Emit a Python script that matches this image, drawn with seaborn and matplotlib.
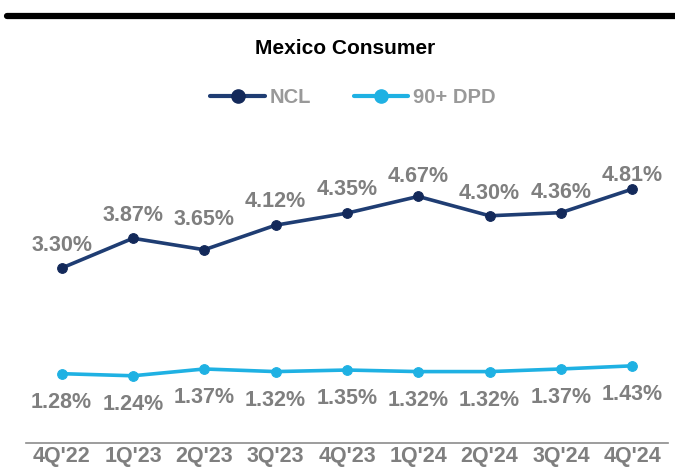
import numpy as np
import pandas as pd
import seaborn as sns
import matplotlib.pyplot as plt
from matplotlib.lines import Line2D

quarters = ["4Q'22", "1Q'23", "2Q'23", "3Q'23", "4Q'23", "1Q'24", "2Q'24", "3Q'24", "4Q'24"]
ncl = [3.30, 3.87, 3.65, 4.12, 4.35, 4.67, 4.30, 4.36, 4.81]
dpd = [1.28, 1.24, 1.37, 1.32, 1.35, 1.32, 1.32, 1.37, 1.43]

#标签偏移(点)，参考图里标签是手动摆放的
ncl_dy = [16.5, 16.5, 22, 17, 17, 14, 16, 14.5, 9.5]
dpd_dy = -20.5

navy = '#1f3d73'
navy_dot = '#13295a'
cyan = '#1fb1e3'
grey = '#7f7f7f'

sns.set_style('white')
plt.rcParams['font.family'] = ['Liberation Sans', 'DejaVu Sans']

df = pd.DataFrame({'quarter': quarters, 'NCL': ncl, '90+ DPD': dpd})
df['x'] = np.arange(len(quarters))

fig = plt.figure(figsize=(6.75, 4.73), dpi=100)
ax = fig.add_axes([0.0385, 0.0634, 0.951, 0.6617])

sns.lineplot(data=df, x='x', y='NCL', ax=ax, color=navy, lw=2.6,
             marker='o', markersize=7, markerfacecolor=navy_dot, markeredgecolor=navy_dot)
sns.lineplot(data=df, x='x', y='90+ DPD', ax=ax, color=cyan, lw=2.6,
             marker='o', markersize=7, markerfacecolor=cyan, markeredgecolor=cyan)

#数据标签
for i in range(len(quarters)):
    ax.annotate('%.2f%%' % ncl[i], (i, ncl[i]), xytext=(0, ncl_dy[i]), textcoords='offset points',
                ha='center', va='center', fontsize=15.5, fontweight='bold', color=grey)
    ax.annotate('%.2f%%' % dpd[i], (i, dpd[i]), xytext=(0, dpd_dy), textcoords='offset points',
                ha='center', va='center', fontsize=15.5, fontweight='bold', color=grey)

ax.set_xlim(-0.5, len(quarters) - 0.5)
ax.set_ylim(-0.046, 5.94)
ax.set_xticks(df['x'])
ax.set_xticklabels(quarters, fontsize=15.5, fontweight='bold', color=grey)
ax.set_xticks(np.arange(-0.5, len(quarters)), minor=True)
ax.tick_params(axis='x', which='major', length=0, pad=2.5)
ax.tick_params(axis='x', which='minor', direction='in', length=5, color='#8c8c8c', width=1)
ax.set_yticks([])
ax.set_xlabel('')
ax.set_ylabel('')
for s in ['top', 'left', 'right']:
    ax.spines[s].set_visible(False)
ax.spines['bottom'].set_color('#8c8c8c')
ax.spines['bottom'].set_linewidth(1.2)

#顶部黑条和标题
fig.add_artist(Line2D([0.01, 1.0], [0.966, 0.966], color='black', lw=4.5, transform=fig.transFigure))
fig.text(0.511, 0.898, 'Mexico Consumer', ha='center', va='center', fontsize=15, fontweight='bold', color='black')

handles = [Line2D([], [], color=navy, lw=3, marker='o', markersize=9.5, markerfacecolor=navy_dot, markeredgecolor=navy_dot),
           Line2D([], [], color=cyan, lw=3, marker='o', markersize=9.5)]
leg = fig.legend(handles, ['NCL', '90+ DPD'], loc='center', bbox_to_anchor=(0.523, 0.794), ncol=2,
                 frameon=False, handlelength=2.7, columnspacing=2.1, handletextpad=0.25,
                 prop={'size': 14.5, 'weight': 'bold'})
for t in leg.get_texts():
    t.set_color('#999999')

fig.savefig('out.png', dpi=100)
